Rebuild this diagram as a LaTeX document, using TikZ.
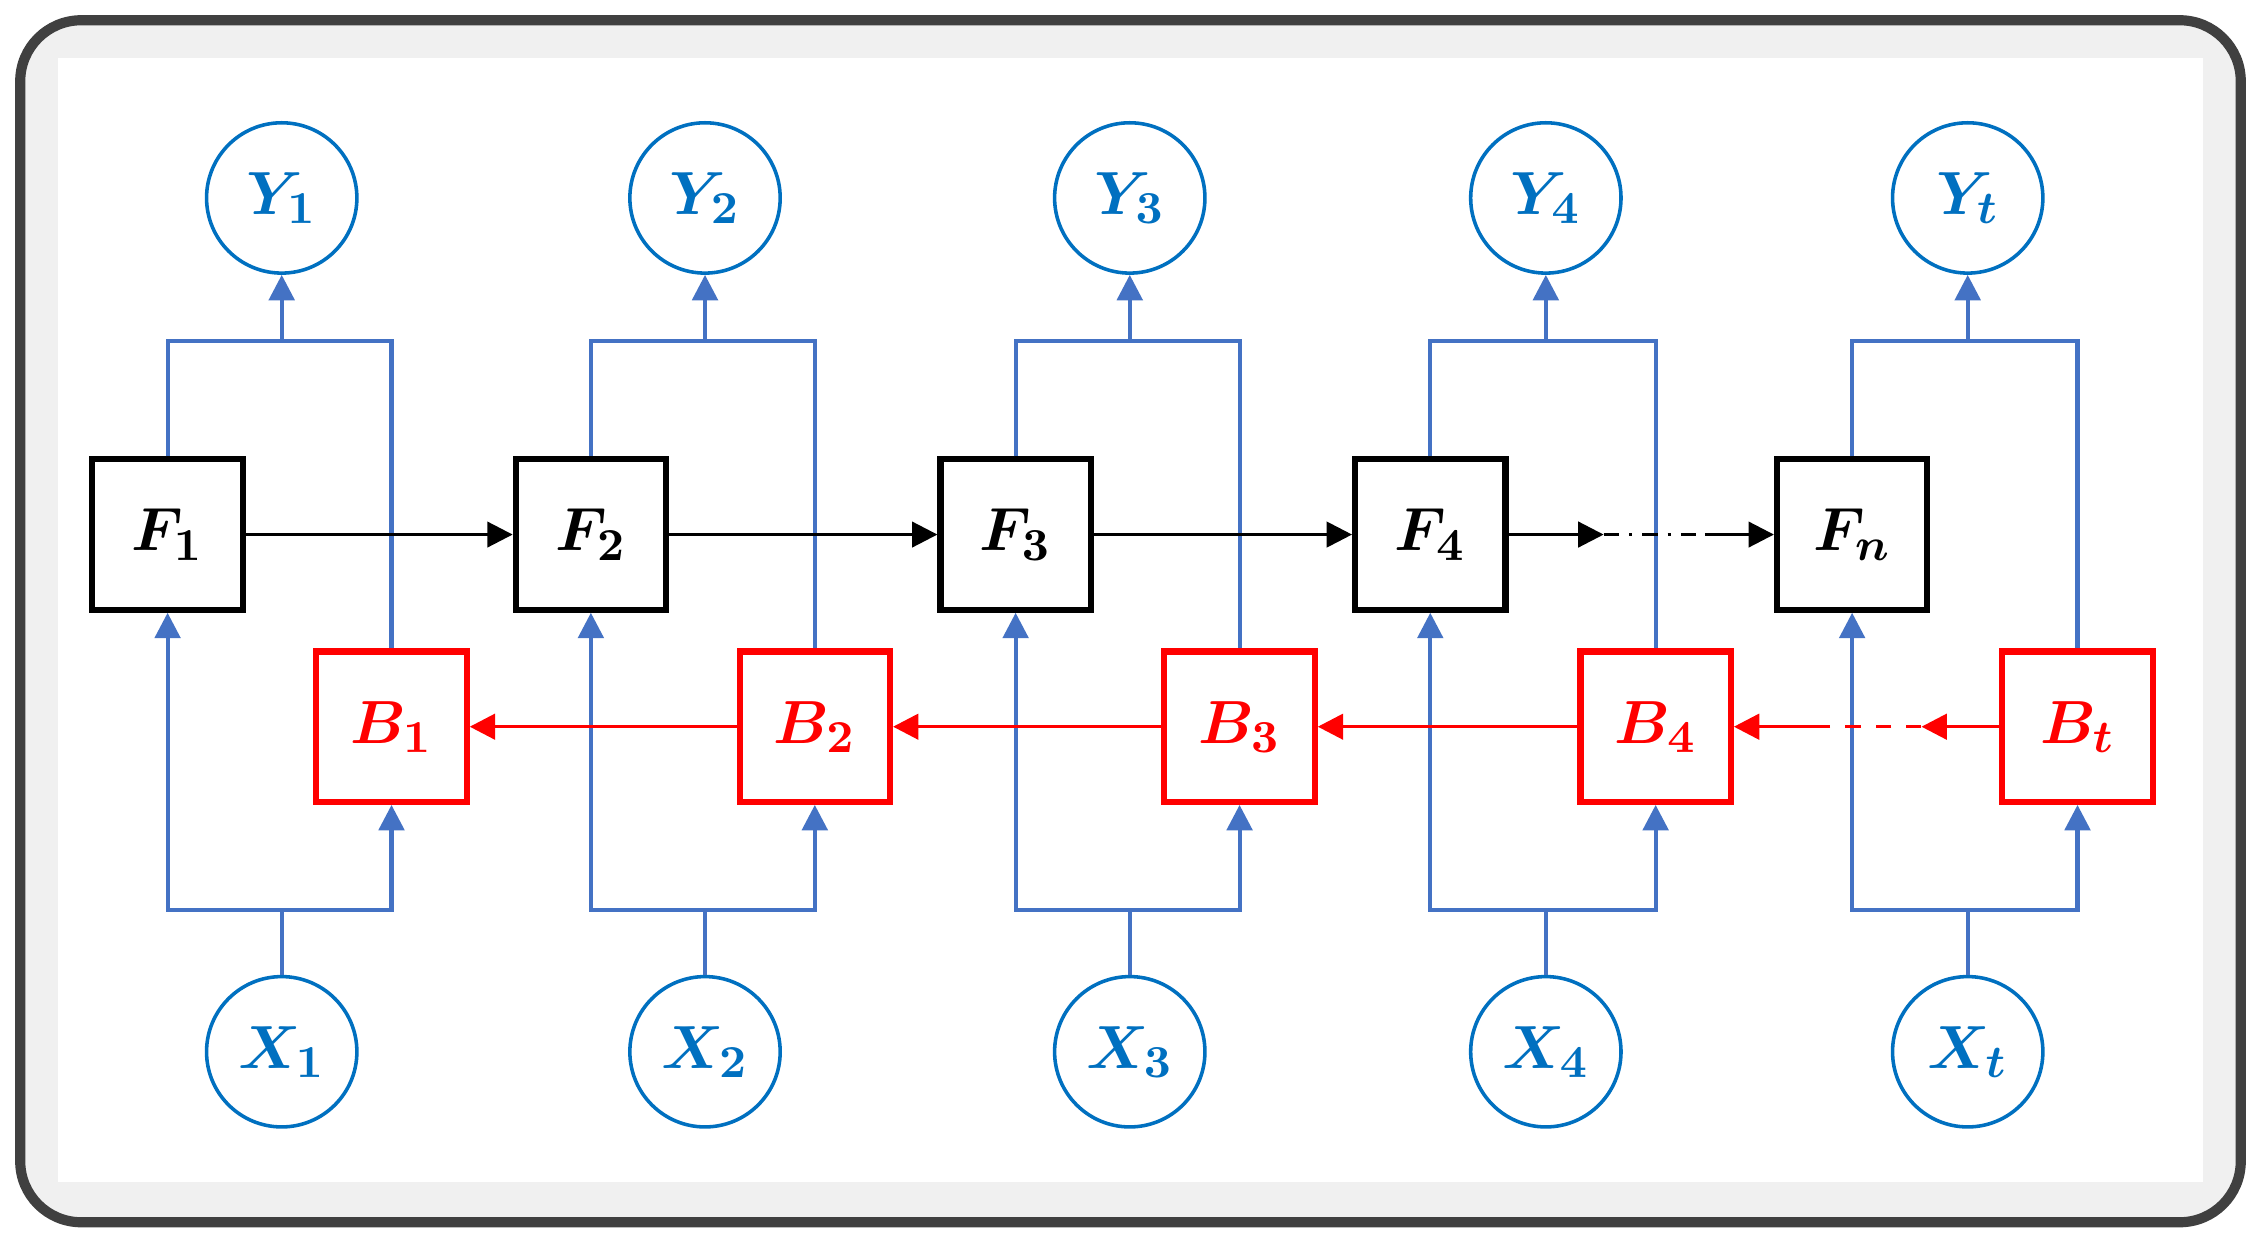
\documentclass[tikz,border=0pt]{standalone}
\usepackage{bm}
\usetikzlibrary{arrows.meta}
\definecolor{lb}{HTML}{4472C4}
\definecolor{tb}{HTML}{0070C0}
\tikzset{
 circ/.style={circle,draw=tb,line width=0.7pt,minimum size=1.04cm,inner sep=0pt,text=tb,font=\fontsize{13}{15}\selectfont},
 fb/.style={draw=black,line width=1.2pt,minimum size=1.04cm,inner sep=0pt,font=\fontsize{13}{15}\selectfont,fill=white},
 bb/.style={draw=red,line width=1.2pt,minimum size=1.04cm,inner sep=0pt,text=red,font=\fontsize{13}{15}\selectfont,fill=white},
 bl/.style={draw=lb,line width=0.8pt},
 ba/.style={bl,-{Triangle[length=5pt,width=5pt]}},
 ka/.style={draw=black,line width=0.6pt,-{Triangle[length=5pt,width=5pt]}},
 ra/.style={draw=red,line width=0.7pt,-{Triangle[length=5pt,width=5pt]}},
}
\begin{document}
\begin{tikzpicture}[x=0.01cm,y=-0.01cm]
\useasboundingbox (0,0) rectangle (1565,863);
\draw[draw=black!75,line width=2pt,fill=black!6,rounded corners=12] (14,14) rectangle (1551,846);
\fill[white] (40,40) rectangle (1525,818);
\foreach \i/\fx/\bx/\yx/\s/\fs in {1/116/271/195/1/1,2/409/564/488/2/2,3/703/858/782/3/3,4/990/1146/1070/4/4,5/1282/1438/1362/t/n}{
 \node[circ] (Y\i) at (\yx,137) {$\bm{Y_{\s}}$};
 \node[circ] (X\i) at (\yx,728) {$\bm{X_{\s}}$};
 \node[fb] (F\i) at (\fx,370) {$\bm{F_{\fs}}$};
 \node[bb] (B\i) at (\bx,503) {$\bm{B_{\s}}$};
 \coordinate (t\i) at (\yx,236);
 \coordinate (b\i) at (\yx,630);
 \draw[bl] (F\i.north) |- (t\i) -| (B\i.north);
 \draw[ba] (t\i) -- (Y\i.south);
 \draw[bl] (X\i.north) -- (b\i);
 \draw[ba] (b\i) -| (F\i.south);
 \draw[ba] (b\i) -| (B\i.south);
}
\draw[ka] (F1) -- (F2);
\draw[ka] (F2) -- (F3);
\draw[ka] (F3) -- (F4);
\coordinate (d1) at (1110,370);
\coordinate (d2) at (1180,370);
\draw[ka] (F4) -- (d1);
\draw[black,line width=0.6pt,dash dot] (d1) -- (d2);
\draw[ka] (d2) -- (F5);
\draw[ra] (B2) -- (B1);
\draw[ra] (B3) -- (B2);
\draw[ra] (B4) -- (B3);
\coordinate (e1) at (1330,503);
\coordinate (e2) at (1265,503);
\draw[ra] (B5) -- (e1);
\draw[red,line width=0.7pt,dashed] (e1) -- (e2);
\draw[ra] (e2) -- (B4);
\end{tikzpicture}
\end{document}
